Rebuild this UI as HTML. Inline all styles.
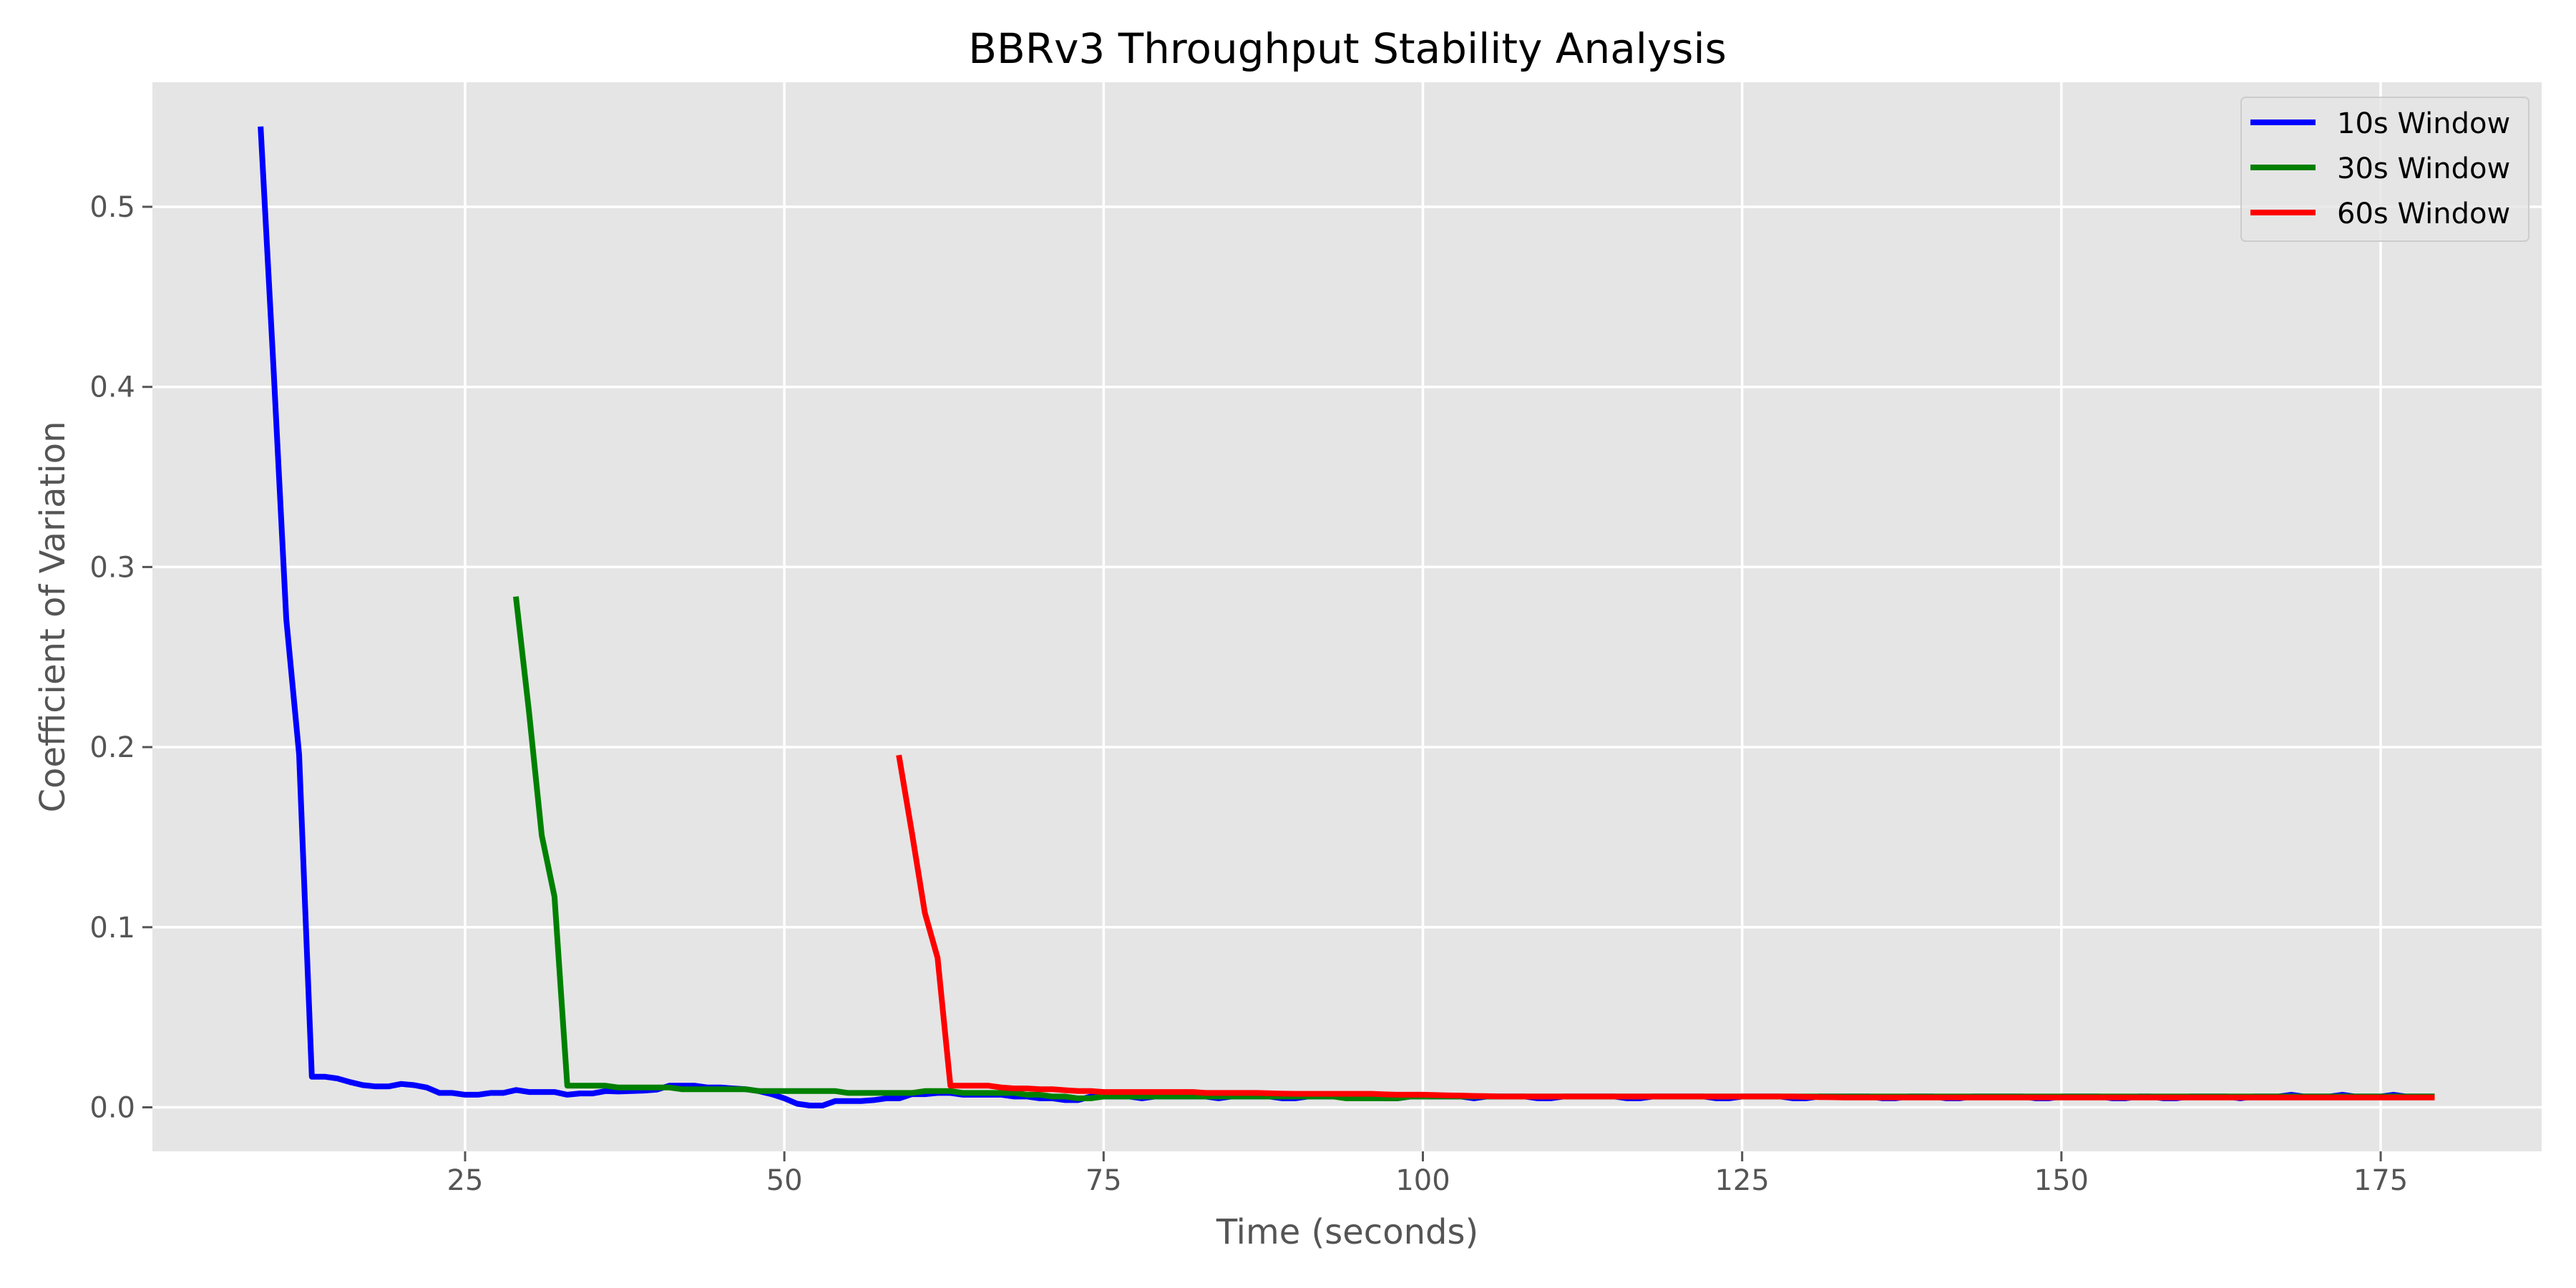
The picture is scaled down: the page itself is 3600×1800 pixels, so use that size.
<!DOCTYPE html>
<html><head><meta charset="utf-8"><style>
html,body{margin:0;padding:0;background:#fff;}
svg{display:block;font-family:"DejaVu Sans","Liberation Sans",sans-serif;}
</style></head><body>
<svg id="chart" width="3600" height="1800" viewBox="0 0 3600 1800" xmlns="http://www.w3.org/2000/svg">
<rect x="0" y="0" width="3600" height="1800" fill="#ffffff"/>
<rect x="213" y="115" width="3339" height="1494" fill="#e5e5e5"/>
<g id="grid"></g>
<g id="ticks"></g>
<g id="series"></g>
<text x="1883" y="88" font-size="58" text-anchor="middle" fill="#000">BBRv3 Throughput Stability Analysis</text>
<text x="1883" y="1738" font-size="48" text-anchor="middle" fill="#555">Time (seconds)</text>
<text x="0" y="0" font-size="48" text-anchor="middle" fill="#555" transform="translate(90,862) rotate(-90)">Coefficient of Variation</text>
<g>
<rect x="3132" y="136" width="402" height="201" rx="6" fill="#e5e5e5" fill-opacity="0.8" stroke="#cccccc" stroke-width="2"/>
<g><line x1="3145" y1="171" x2="3236" y2="171" stroke="#0000ff" stroke-width="8"/><text x="3266" y="186" font-size="40" fill="#000">10s Window</text></g>
<g><line x1="3145" y1="234" x2="3236" y2="234" stroke="#008000" stroke-width="8"/><text x="3266" y="249" font-size="40" fill="#000">30s Window</text></g>
<g><line x1="3145" y1="297" x2="3236" y2="297" stroke="#ff0000" stroke-width="8"/><text x="3266" y="312" font-size="40" fill="#000">60s Window</text></g>
</g>
</svg>
<script>
const xTicks = [25, 50, 75, 100, 125, 150, 175];
const yTicks = [0.0, 0.1, 0.2, 0.3, 0.4, 0.5];
const yTickLabels = ["0.0", "0.1", "0.2", "0.3", "0.4", "0.5"];
const start10 = 9, start30 = 29, start60 = 59;
const cv10 = [0.543,0.41,0.271,0.196,0.017,0.017,0.016,0.014,0.0123,0.0116,0.0116,0.013,0.0123,0.011,0.008,0.008,0.007,0.007,0.008,0.008,
0.0096,0.0085,0.0085,0.0085,0.007,0.0077,0.0077,0.009,0.0088,0.009,0.0093,0.0098,0.012,0.012,0.012,0.011,0.011,0.0105,0.010,0.009,
0.0073,0.005,0.002,0.001,0.001,0.0035,0.0035,0.0035,0.004,0.005,0.005,0.0073,0.0073,0.008,0.008,0.007,0.007,0.007,0.007,0.006,
0.006,0.005,0.005,0.004,0.004,0.006,
0.006,0.006,0.006,0.005,0.006,0.006,0.006,0.006,0.006,0.005,0.006,0.006,0.006,0.006,0.005,
0.005,0.006,0.006,0.006,0.006,0.006,0.006,0.005,0.005,0.006,0.006,0.006,0.006,0.006,0.005,
0.006,0.006,0.006,0.006,0.005,0.005,0.006,0.006,0.006,0.006,0.006,0.005,0.005,0.006,0.006,
0.006,0.006,0.006,0.005,0.005,0.006,0.006,0.006,0.006,0.005,0.005,0.006,0.006,0.006,0.006,
0.006,0.005,0.005,0.006,0.006,0.006,0.005,0.005,0.006,0.006,0.006,0.006,0.006,0.005,0.005,
0.006,0.006,0.006,0.006,0.005,0.005,0.006,0.006,0.005,0.005,0.006,0.006,0.006,0.006,0.005,
0.006,0.006,0.006,0.007,0.006,0.006,0.006,0.007,0.006,0.006,0.006,0.007,0.006,0.006,0.006];
const cv30 = [0.282,0.22,0.151,0.117,0.012,0.012,0.012,0.012,0.011,0.011,0.011,0.011,0.011,0.010,0.010,0.010,0.010,0.010,0.010,0.009,
0.009,0.009,0.009,0.009,0.009,0.009,0.008,0.008,0.008,0.008,0.008,0.008,0.009,0.009,0.009,0.008,0.008,0.008,0.008,0.008,
0.007,0.007,0.006,0.006,0.005,0.005,
0.006,0.006,0.006,0.006,0.006,0.006,0.006,0.006,0.006,0.006,0.006,0.006,0.006,0.006,0.006,
0.006,0.006,0.006,0.006,0.005,0.005,0.005,0.005,0.005,0.006,0.006,0.006,0.006,0.006,0.006,
0.006,0.006,0.006,0.006,0.006,0.006,0.006,0.006,0.006,0.006,0.006,0.006,0.006,0.006,0.006,
0.006,0.006,0.006,0.006,0.006,0.006,0.006,0.006,0.006,0.006,0.006,0.006,0.006,0.006,0.006,
0.006,0.006,0.006,0.006,0.006,0.006,0.006,0.006,0.006,0.006,0.006,0.006,0.006,0.006,0.006,
0.006,0.006,0.006,0.006,0.006,0.006,0.006,0.006,0.006,0.006,0.006,0.006,0.006,0.006,0.006,
0.006,0.006,0.006,0.006,0.006,0.006,0.006,0.006,0.006,0.006,0.006,0.006,0.006,0.006,0.006];
const cv60 = [0.194,0.152,0.108,0.083,0.012,0.012,0.012,0.012,0.011,0.0105,0.0105,0.010,0.010,0.0095,0.009,0.009,
0.0085,0.0085,0.0085,0.0085,0.0085,0.0085,0.0085,0.0085,0.008,0.008,0.008,0.008,0.008,0.0078,0.0076,
0.0075,0.0075,0.0075,0.0075,0.0075,0.0075,0.0075,0.0072,0.007,0.007,0.007,0.0068,0.0066,0.0065,0.0063,
0.0062,0.006,0.006,0.006,0.006,0.006,0.006,0.006,0.006,0.006,0.006,0.006,0.006,0.006,0.006,
0.006,0.006,0.006,0.006,0.006,0.006,0.006,0.006,0.006,0.006,0.0058,0.0057,0.0056,0.0055,0.0055,
0.0055,0.0055,0.0055,0.0055,0.0055,0.0055,0.0055,0.0055,0.0055,0.0055,0.0055,0.0055,0.0055,0.0055,0.0055,
0.0055,0.0055,0.0055,0.0055,0.0055,0.0055,0.0055,0.0055,0.0055,0.0055,0.0055,0.0055,0.0055,0.0055,0.0055,
0.0055,0.0055,0.0055,0.0055,0.0055,0.0055,0.0055,0.0055,0.0055,0.0055,0.0055,0.0055,0.0055,0.0055,0.0055];

const NS = "http://www.w3.org/2000/svg";
const PL = 213, PR = 3552, PT = 115, PB = 1609;
function xScale(t){ return 203.8 + t * 17.847; }
function yScale(v){ return 1547.5 - v * 2517; }
const grid = document.getElementById('grid');
const ticks = document.getElementById('ticks');
xTicks.forEach(function(t){
  const x = xScale(t);
  const g = document.createElementNS(NS,'line');
  g.setAttribute('x1',x); g.setAttribute('x2',x); g.setAttribute('y1',PT); g.setAttribute('y2',PB);
  g.setAttribute('stroke','#fff'); g.setAttribute('stroke-width','3.5');
  
  
  grid.appendChild(g);
  const tk = document.createElementNS(NS,'line');
  tk.setAttribute('x1',x); tk.setAttribute('x2',x); tk.setAttribute('y1',PB); tk.setAttribute('y2',PB+14);
  tk.setAttribute('stroke','#555'); tk.setAttribute('stroke-width','3');
  
  
  ticks.appendChild(tk);
  const tx = document.createElementNS(NS,'text');
  tx.setAttribute('x',x); tx.setAttribute('y',PB+54); tx.setAttribute('text-anchor','middle');
  tx.setAttribute('font-size','40'); tx.setAttribute('fill','#555');
  tx.textContent = String(t);
  
  
  ticks.appendChild(tx);
});
yTicks.forEach(function(v,i){
  const y = yScale(v);
  const g = document.createElementNS(NS,'line');
  g.setAttribute('x1',PL); g.setAttribute('x2',PR); g.setAttribute('y1',y); g.setAttribute('y2',y);
  g.setAttribute('stroke','#fff'); g.setAttribute('stroke-width','3.5');
  
  
  grid.appendChild(g);
  const tk = document.createElementNS(NS,'line');
  tk.setAttribute('x1',PL-14); tk.setAttribute('x2',PL); tk.setAttribute('y1',y); tk.setAttribute('y2',y);
  tk.setAttribute('stroke','#555'); tk.setAttribute('stroke-width','3');
  
  
  ticks.appendChild(tk);
  const tx = document.createElementNS(NS,'text');
  tx.setAttribute('x',PL-24); tx.setAttribute('y',y+14); tx.setAttribute('text-anchor','end');
  tx.setAttribute('font-size','40'); tx.setAttribute('fill','#555');
  tx.textContent = yTickLabels[i];
  
  
  ticks.appendChild(tx);
});
const series = document.getElementById('series');
function drawLine(vals, start, color, name){
  const pts = vals.map(function(v,i){ return xScale(start+i).toFixed(1)+','+yScale(v).toFixed(1); }).join(' ');
  const p = document.createElementNS(NS,'polyline');
  p.setAttribute('points',pts); p.setAttribute('fill','none'); p.setAttribute('stroke',color);
  p.setAttribute('stroke-width','8'); p.setAttribute('stroke-linejoin','round'); p.setAttribute('stroke-linecap','square');
  
  
  series.appendChild(p);
}
drawLine(cv10, start10, '#0000ff', 'line-10s-window');
drawLine(cv30, start30, '#008000', 'line-30s-window');
drawLine(cv60, start60, '#ff0000', 'line-60s-window');
</script>
</body></html>
